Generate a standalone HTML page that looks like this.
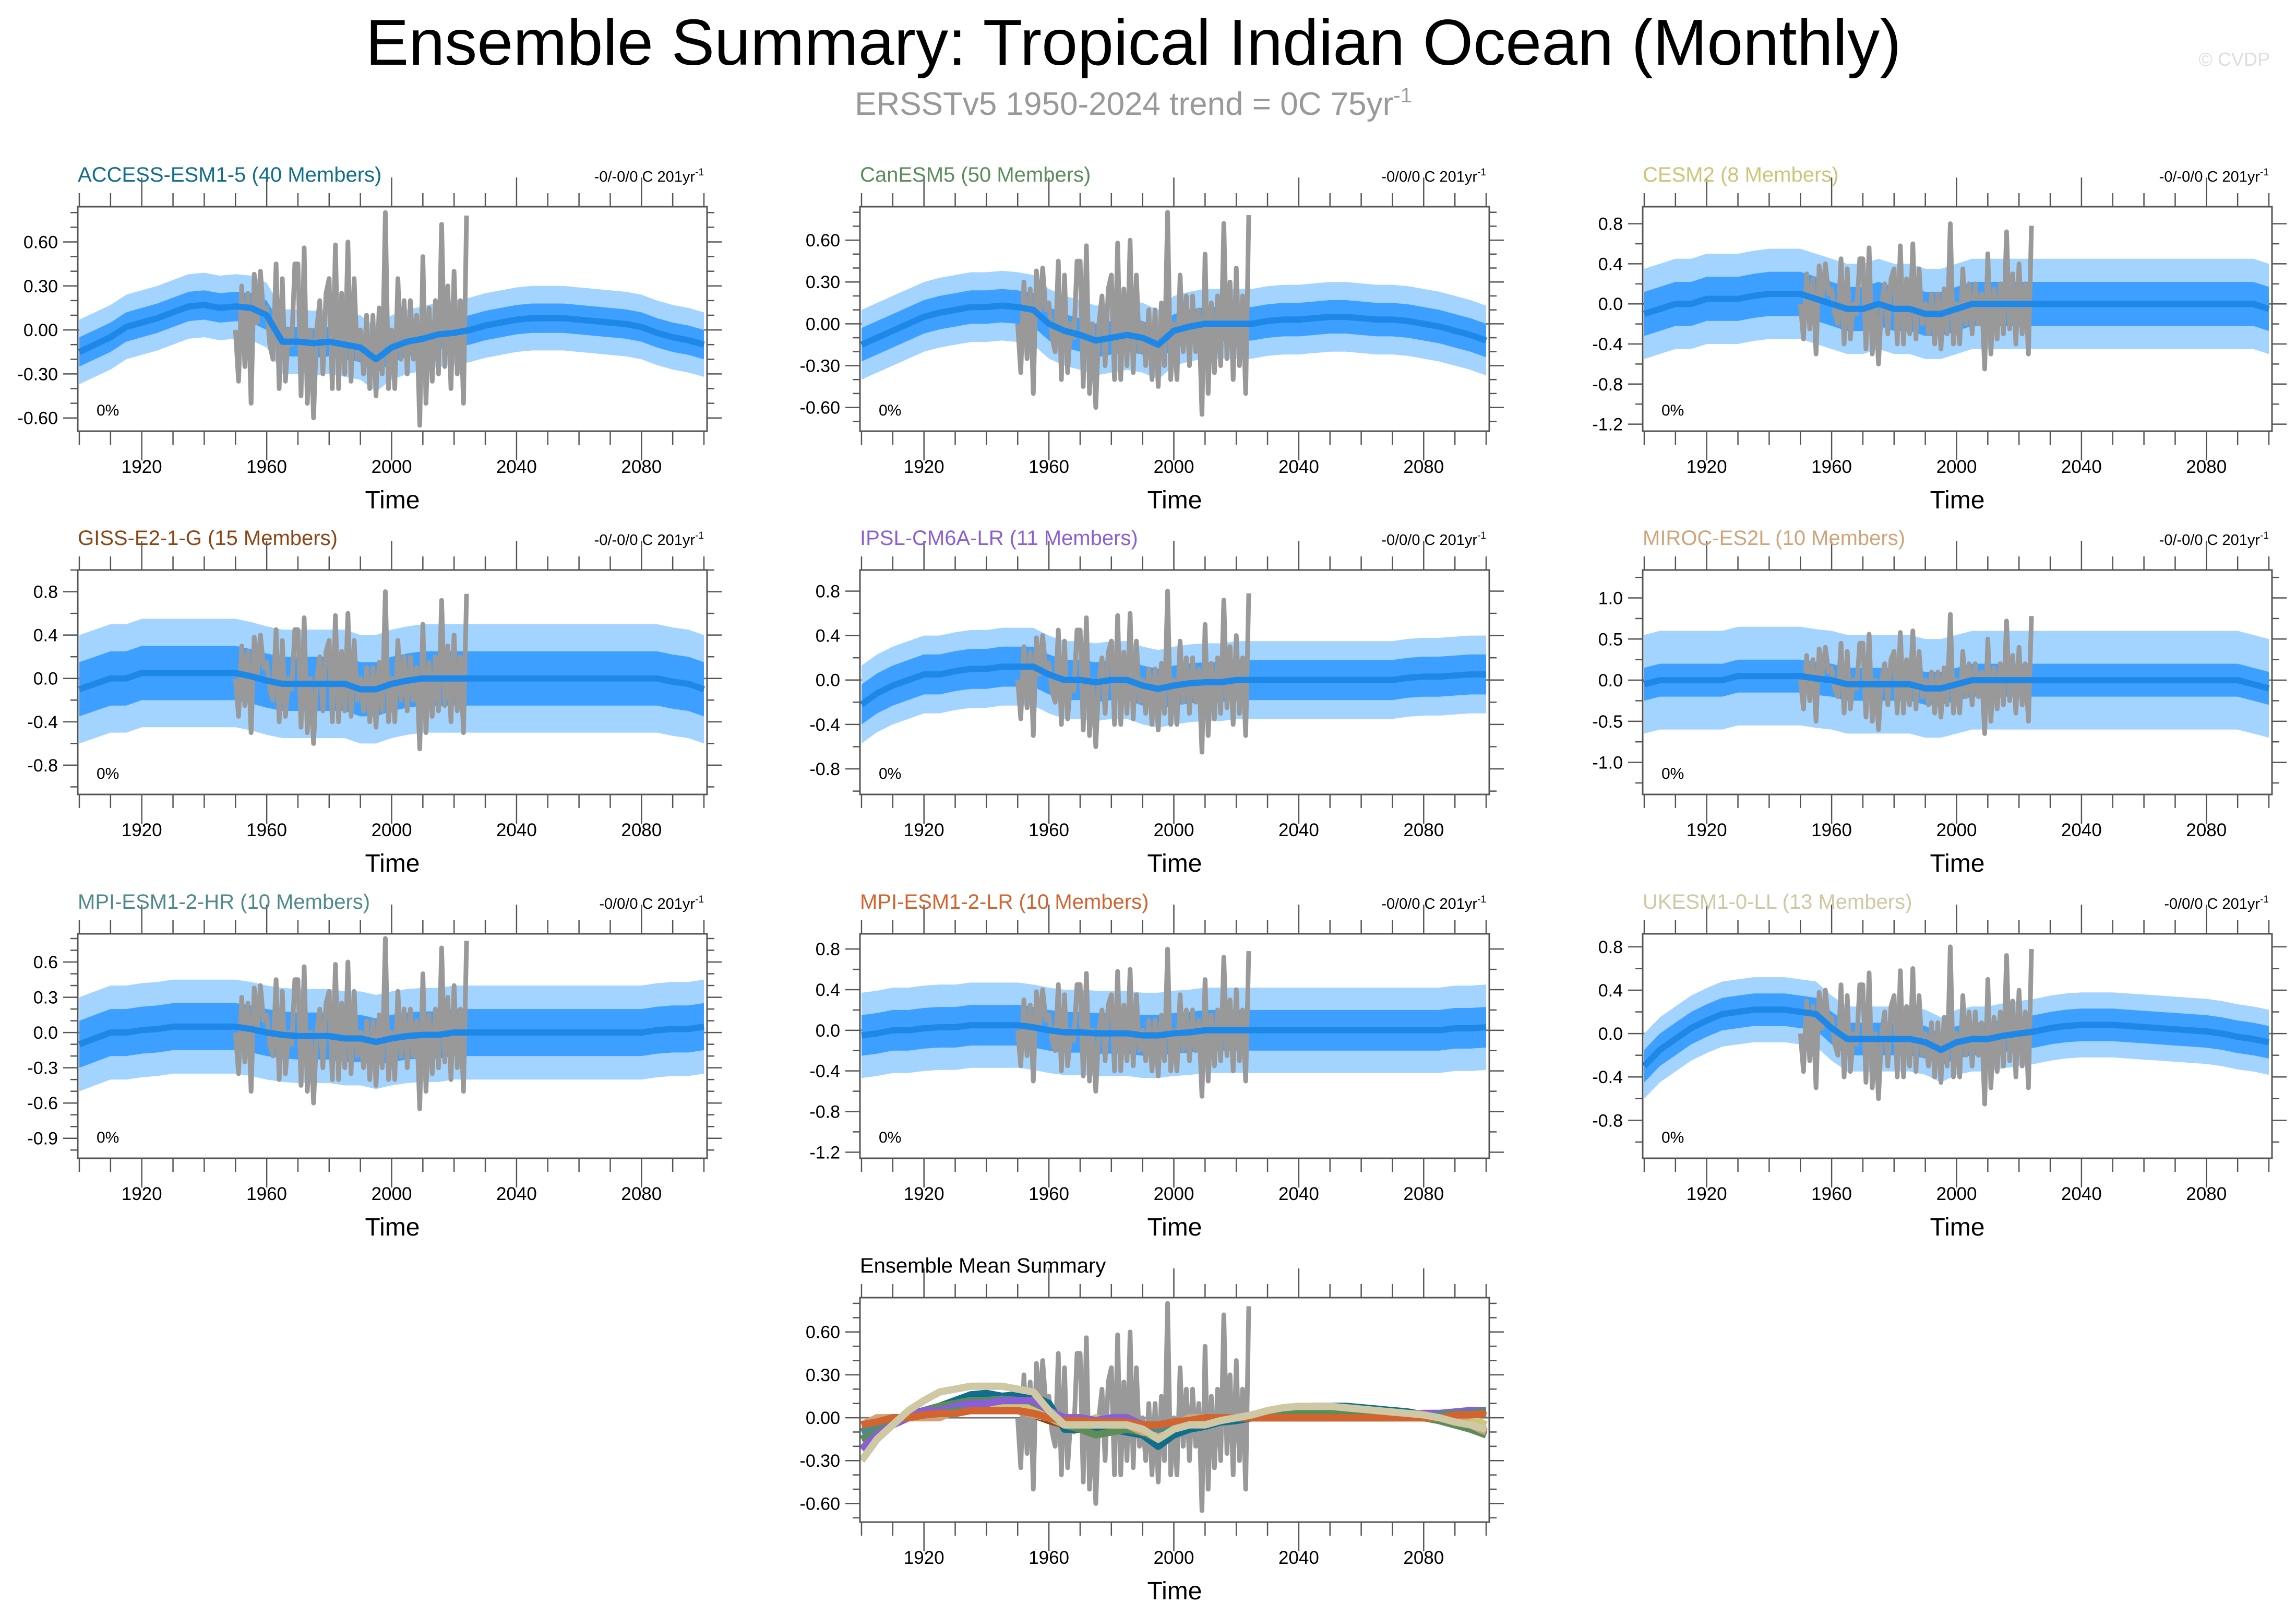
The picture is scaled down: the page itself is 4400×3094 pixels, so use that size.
<!DOCTYPE html>
<html><head><meta charset="utf-8"><title>Ensemble Summary: Tropical Indian Ocean (Monthly)</title>
<style>
html,body{margin:0;padding:0;background:#fff;}
svg{display:block;font-family:"Liberation Sans",Arial,sans-serif;}
</style></head>
<body>
<svg id="chart" xmlns="http://www.w3.org/2000/svg" width="4400" height="3094" viewBox="0 0 4400 3094">
<rect x="0" y="0" width="4400" height="3094" fill="#fff"/>
<text x="2172" y="124" font-size="124" text-anchor="middle" fill="#000">Ensemble Summary: Tropical Indian Ocean (Monthly)</text>
<text x="2172" y="220" font-size="62" text-anchor="middle" fill="#999">ERSSTv5 1950-2024 trend = 0C 75yr<tspan font-size="40" dy="-24">-1</tspan></text>
<text x="4350" y="126" font-size="36" text-anchor="end" fill="#ddd">© CVDP</text>
<g id="panels"></g>
</svg>
<script>
// ---- data ----
const meanYears = [1900,1905,1910,1915,1920,1925,1930,1935,1940,1945,1950,1955,1960,1965,1970,1975,1980,1985,1990,1995,2000,2005,2010,2015,2020,2025,2030,2035,2040,2045,2050,2055,2060,2065,2070,2075,2080,2085,2090,2095,2100];
const meanAccess = [-0.15,-0.1,-0.05,0.02,0.05,0.08,0.12,0.16,0.17,0.15,0.16,0.15,0.1,-0.08,-0.08,-0.09,-0.08,-0.1,-0.12,-0.2,-0.12,-0.08,-0.06,-0.03,-0.02,0.0,0.03,0.05,0.07,0.08,0.08,0.08,0.07,0.06,0.05,0.04,0.02,-0.02,-0.05,-0.07,-0.1];
const meanCanesm = [-0.15,-0.1,-0.05,0.0,0.05,0.08,0.1,0.12,0.12,0.13,0.12,0.1,0.0,-0.05,-0.08,-0.12,-0.1,-0.08,-0.1,-0.15,-0.05,-0.02,0.0,0.0,0.0,0.0,0.02,0.03,0.03,0.04,0.05,0.05,0.04,0.03,0.03,0.02,0.0,-0.02,-0.05,-0.08,-0.12];
const meanCesm = [-0.1,-0.05,0,0,0.05,0.05,0.05,0.08,0.1,0.1,0.1,0.05,0,-0.05,-0.05,0,-0.05,-0.05,-0.1,-0.1,-0.05,0,0,0,0,0,0,0,0,0,0,0,0,0,0,0,0,0,0,0,-0.05];
const meanGiss = [-0.1,-0.05,0,0,0.05,0.05,0.05,0.05,0.05,0.05,0.05,0.02,-0.02,-0.05,-0.05,-0.05,-0.05,-0.05,-0.1,-0.1,-0.05,-0.02,0,0,0,0,0,0,0,0,0,0,0,0,0,0,0,0,-0.03,-0.05,-0.1];
const meanIpsl = [-0.22,-0.12,-0.05,0,0.05,0.05,0.08,0.1,0.1,0.12,0.12,0.12,0.05,0,0,-0.02,0,0,-0.05,-0.08,-0.05,-0.03,-0.02,-0.02,0,0,0,0,0,0,0,0,0,0,0,0.02,0.03,0.03,0.04,0.05,0.05];
const meanMiroc = [-0.05,0,0,0,0,0,0.05,0.05,0.05,0.05,0.05,0.02,0,-0.05,-0.05,-0.05,-0.05,-0.05,-0.1,-0.1,-0.05,0,0,0,0,0,0,0,0,0,0,0,0,0,0,0,0,0,0,-0.05,-0.1];
const meanMpiHr = [-0.1,-0.05,0,0,0.02,0.03,0.05,0.05,0.05,0.05,0.05,0.03,0,-0.02,-0.03,-0.03,-0.03,-0.05,-0.05,-0.08,-0.05,-0.03,-0.02,-0.02,0,0,0,0,0,0,0,0,0,0,0,0,0,0.02,0.03,0.03,0.05];
const meanMpiLr = [-0.05,-0.03,0,0,0.02,0.03,0.03,0.05,0.05,0.05,0.05,0.03,0,-0.02,-0.02,-0.03,-0.03,-0.03,-0.05,-0.05,-0.03,-0.02,0,0,0,0,0,0,0,0,0,0,0,0,0,0,0,0,0.02,0.02,0.03];
const meanUkesm = [-0.3,-0.15,-0.05,0.05,0.12,0.18,0.2,0.22,0.22,0.22,0.2,0.18,0.05,-0.05,-0.05,-0.05,-0.05,-0.05,-0.08,-0.15,-0.08,-0.05,-0.05,-0.02,0,0.02,0.05,0.07,0.08,0.08,0.08,0.07,0.06,0.05,0.04,0.03,0.02,0,-0.03,-0.05,-0.08];
const innerSpread = [0.1,0.12,0.22,0.25,0.18,0.2,0.2,0.2,0.15];
const outerSpread = [0.22,0.25,0.45,0.5,0.35,0.6,0.4,0.42,0.3];
const obsYears = [1950,1951,1952,1953,1954,1955,1956,1957,1958,1959,1960,1961,1962,1963,1964,1965,1966,1967,1968,1969,1970,1971,1972,1973,1974,1975,1976,1977,1978,1979,1980,1981,1982,1983,1984,1985,1986,1987,1988,1989,1990,1991,1992,1993,1994,1995,1996,1997,1998,1999,2000,2001,2002,2003,2004,2005,2006,2007,2008,2009,2010,2011,2012,2013,2014,2015,2016,2017,2018,2019,2020,2021,2022,2023,2024];
const obsValues = [0.0,-0.35,0.3,-0.25,0.25,-0.5,0.38,0.05,0.4,0.1,0.15,-0.1,-0.2,0.45,-0.4,0.35,-0.35,0.0,-0.1,0.45,0.45,-0.45,0.56,-0.5,0.0,-0.6,0.0,0.2,-0.3,0.25,0.35,-0.4,0.58,-0.4,0.25,-0.3,0.6,-0.35,0.35,-0.2,0.0,-0.3,0.1,-0.4,0.1,-0.45,0.15,-0.3,0.8,-0.4,0.0,-0.4,0.35,-0.2,0.2,-0.3,0.2,-0.2,0.1,-0.65,0.5,-0.5,0.15,-0.35,0.2,-0.3,0.72,-0.25,0.3,-0.4,0.4,-0.3,0.2,-0.5,0.78];
const modelNames = ["ACCESS-ESM1-5 (40 Members)","CanESM5 (50 Members)","CESM2 (8 Members)","GISS-E2-1-G (15 Members)","IPSL-CM6A-LR (11 Members)","MIROC-ES2L (10 Members)","MPI-ESM1-2-HR (10 Members)","MPI-ESM1-2-LR (10 Members)","UKESM1-0-LL (13 Members)"];
const trendLabels = ["-0/-0/0 C 201yr","-0/0/0 C 201yr","-0/-0/0 C 201yr","-0/-0/0 C 201yr","-0/0/0 C 201yr","-0/-0/0 C 201yr","-0/0/0 C 201yr","-0/0/0 C 201yr","-0/0/0 C 201yr"];
const xTickLabels = [1920,1960,2000,2040,2080];
const yTicksP = [
 [-0.6,-0.3,0,0.3,0.6],[-0.6,-0.3,0,0.3,0.6],[-1.2,-0.8,-0.4,0,0.4,0.8],
 [-0.8,-0.4,0,0.4,0.8],[-0.8,-0.4,0,0.4,0.8],[-1.0,-0.5,0,0.5,1.0],
 [-0.9,-0.6,-0.3,0,0.3,0.6],[-1.2,-0.8,-0.4,0,0.4,0.8],[-0.8,-0.4,0,0.4,0.8],
 [-0.6,-0.3,0,0.3,0.6]];
const yDecimals = [2,2,1,1,1,1,1,1,1,2];
const yDomains = [[-0.69,0.84],[-0.77,0.84],[-1.27,0.97],[-1.07,1.0],[-1.03,0.99],[-1.39,1.34],[-1.07,0.84],[-1.26,0.95],[-1.15,0.92],[-0.73,0.84]];

// ---- style ----
const modelColors = ["#0f6e8c","#5b8c5a","#cdc57a","#8b4513","#8a5fd6","#cfa47a","#4f8a8b","#d2642f","#cfc8a4"];
const allMeans = [meanAccess,meanCanesm,meanCesm,meanGiss,meanIpsl,meanMiroc,meanMpiHr,meanMpiLr,meanUkesm];
const colX = [149,1648,3148], rowY = [396,1092,1789,2486], PW = 1206, PH = 430;
const NS = "http://www.w3.org/2000/svg";
const root = document.getElementById("panels");
function mk(tag, attrs, parent){const e=document.createElementNS(NS,tag);for(const k in attrs)e.setAttribute(k,attrs[k]);(parent||root).appendChild(e);return e;}

function drawPanel(i, px, py, title, titleColor, trend){
  const g = mk("g",{});
  
  
  const dom = yDomains[i];
  const xs = y => px + (y - 1899.5) / (2101 - 1899.5) * PW;
  const ys = v => py + PH - (v - dom[0]) / (dom[1] - dom[0]) * PH;
  const cid = "clip" + i;
  const cp = mk("clipPath",{id:cid},g); mk("rect",{x:px,y:py,width:PW,height:PH},cp);
  const plot = mk("g",{"clip-path":"url(#"+cid+")"},g);
  
  
  const zl = mk("line",{x1:px,x2:px+PW,y1:ys(0),y2:ys(0),stroke:"#777","stroke-width":3},plot);
  
  
  const lineOf = (xsArr, vals) => xsArr.map((y,k)=>(k?"L":"M")+xs(y).toFixed(1)+","+ys(vals[k]).toFixed(1)).join("");
  if (i < 9){
    const m = allMeans[i];
    const band = (s) => { let up = meanYears.map((y,k)=>xs(y).toFixed(1)+","+ys(m[k]+s).toFixed(1)); let dn = meanYears.map((y,k)=>xs(y).toFixed(1)+","+ys(m[k]-s).toFixed(1)).reverse(); return up.concat(dn).join(" "); };
    const ob = mk("polygon",{points:band(outerSpread[i]),fill:"#a3d3ff"},plot);
    
    
    const ib = mk("polygon",{points:band(innerSpread[i]),fill:"#3d9fff"},plot);
    
    
    const ol = mk("path",{d:lineOf(obsYears,obsValues),fill:"none",stroke:"#999","stroke-width":9,"stroke-linejoin":"round"},plot);
    
    
    const ml = mk("path",{d:lineOf(meanYears,m),fill:"none",stroke:"#1e88e8","stroke-width":12,"stroke-linejoin":"round"},plot);
    
    
  } else {
    const ol = mk("path",{d:lineOf(obsYears,obsValues),fill:"none",stroke:"#999","stroke-width":9,"stroke-linejoin":"round"},plot);
    
    
    allMeans.forEach((m,k)=>{
      const l = mk("path",{d:lineOf(meanYears,m),fill:"none",stroke:modelColors[k],"stroke-width":14,"stroke-linejoin":"round"},plot);
      
      
    });
  }
  const fr = mk("rect",{x:px,y:py,width:PW,height:PH,fill:"none",stroke:"#555","stroke-width":3},g);
  
  
  for (let yr=1900; yr<=2100; yr+=10){
    const major = (yr-1920)%40===0; const L = major?56:26; const x = xs(yr);
    mk("line",{x1:x,x2:x,y1:py,y2:py-L,stroke:"#555","stroke-width":2.5},g);
    mk("line",{x1:x,x2:x,y1:py+PH,y2:py+PH+L,stroke:"#555","stroke-width":2.5},g);
  }
  xTickLabels.forEach(yr=>{
    const t = mk("text",{x:xs(yr),y:py+PH+80,"font-size":35,"text-anchor":"middle"},g); t.textContent=yr;
    
    
  });
  const yt = yTicksP[i]; const step = yt[1]-yt[0]; const minor = step/ (Math.abs(step-0.3)<1e-6 ? 3 : 2);
  const dec = yDecimals[i];
  for (let v = Math.ceil(dom[0]/minor)*minor; v <= dom[1]+1e-9; v += minor){
    const isMajor = yt.some(t=>Math.abs(t-v)<1e-6); const L = isMajor?28:14; const y = ys(v);
    mk("line",{x1:px,x2:px-L,y1:y,y2:y,stroke:"#555","stroke-width":2.5},g);
    mk("line",{x1:px+PW,x2:px+PW+L,y1:y,y2:y,stroke:"#555","stroke-width":2.5},g);
  }
  yt.forEach(v=>{
    const t = mk("text",{x:px-38,y:ys(v)+12,"font-size":34,"text-anchor":"end"},g);
    t.textContent = (Math.abs(v)<1e-9?0:v).toFixed(dec);
    
    
  });
  const xt = mk("text",{x:px+PW/2,y:py+PH+148,"font-size":48,"text-anchor":"middle"},g); xt.textContent="Time";
  
  
  const tt = mk("text",{x:px,y:py-48,"font-size":40,fill:titleColor},g); tt.textContent=title;
  
  
  if (trend){
    const tr = mk("text",{x:px+PW-6,y:py-48,"font-size":29,"text-anchor":"end"},g);
    tr.textContent = trend;
    const sp = mk("tspan",{"font-size":19,dy:-12},tr); sp.textContent="-1";
    
    
    const pc = mk("text",{x:px+36,y:py+PH-30,"font-size":30},g); pc.textContent="0%";
    
    
  }
}
for (let i=0;i<9;i++){
  drawPanel(i, colX[i%3], rowY[Math.floor(i/3)], modelNames[i], modelColors[i], trendLabels[i]);
}
drawPanel(9, colX[1], rowY[3], "Ensemble Mean Summary", "#000", null);
</script>
</body></html>
